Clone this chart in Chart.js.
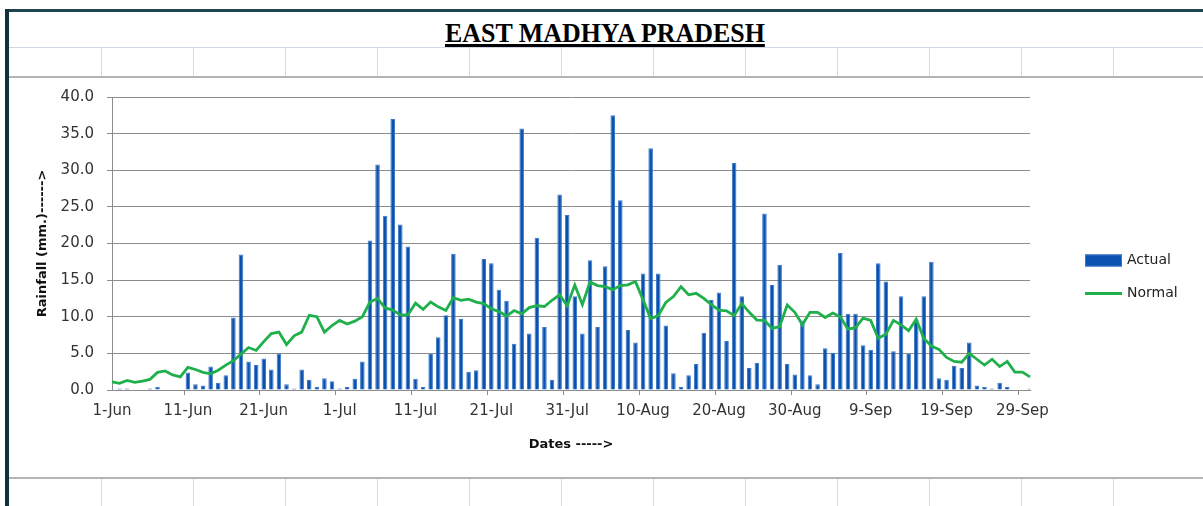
<!DOCTYPE html>
<html>
<head>
<meta charset="utf-8">
<title>East Madhya Pradesh rainfall</title>
<script src="https://cdn.jsdelivr.net/npm/chart.js@4.4.0/dist/chart.umd.min.js"></script>
<style>
    html, body { margin: 0; padding: 0; background: #fff; }
    body { width: 1203px; height: 506px; position: relative; overflow: hidden; }
    .sheet-top { position: absolute; left: 5px; top: 9px; width: 1198px; height: 3px; background: #1e4450; }
    .sheet-left { position: absolute; left: 5px; top: 9px; width: 4px; height: 497px; background: #12303a; }
    .row-line { position: absolute; left: 9px; right: 0; height: 1px; background: #cfd7e6; }
    .chart-edge { position: absolute; left: 9px; right: 0; height: 2px; background: #b4b4b4; }
    .col-line { position: absolute; width: 1px; background: #d4dbe8; }
    #title {
        position: absolute; left: 445px; top: 19px; height: 28px; line-height: 28px;
        font-family: "Liberation Serif", serif; font-weight: bold; font-size: 28px;
        color: #000; white-space: nowrap;
        text-decoration: underline; text-decoration-thickness: 3px; text-underline-offset: 2px;
        transform: scaleX(0.926); transform-origin: left center;
    }
    #rain { position: absolute; left: 0; top: 0; }
</style>
</head>
<body>
<div class="sheet-top"></div>
<div class="sheet-left"></div>
<div class="row-line" style="top:47px"></div>
<div class="chart-edge" style="top:76px"></div>
<div class="chart-edge" style="top:477px"></div>
<div id="title">EAST MADHYA PRADESH</div>
<canvas id="rain" width="1203" height="506"></canvas>

<script>
// Daily rainfall (mm), 1 Jun - 30 Sep
var months = ['Jun', 'Jul', 'Aug', 'Sep'];
var monthDays = [30, 31, 31, 30];
var tickLabels = ['1-Jun', '11-Jun', '21-Jun', '1-Jul', '11-Jul', '21-Jul', '31-Jul',
    '10-Aug', '20-Aug', '30-Aug', '9-Sep', '19-Sep', '29-Sep'];

var actual = [
    0, 0.2, 0.2, 0, 0, 0.2, 0.45, 0, 0, 0,
    2.4, 0.8, 0.6, 3.2, 1.0, 2.0, 9.9, 18.5, 3.9, 3.4,
    4.3, 2.8, 5.0, 0.8, 0.2, 2.8, 1.4, 0.45, 1.6, 1.2,
    0.2, 0.4, 1.55, 3.9, 20.4, 30.8, 23.8, 37.0, 22.6, 19.6,
    1.55, 0.4, 4.9, 7.2, 10.2, 18.6, 9.7, 2.5, 2.7, 17.9,
    17.3, 13.7, 12.2, 6.3, 35.7, 7.7, 20.8, 8.6, 1.4, 26.7,
    23.9, 12.8, 7.7, 17.7, 8.6, 16.9, 37.5, 25.9, 8.2, 6.5,
    15.9, 33.0, 15.9, 8.8, 2.3, 0.4, 2.0, 3.55, 7.8, 12.3,
    13.3, 6.7, 31.0, 12.8, 3.0, 3.7, 24.1, 14.35, 17.1, 3.55,
    2.1, 9.5, 2.0, 0.8, 5.7, 5.1, 18.7, 10.4, 10.4, 6.1,
    5.5, 17.3, 14.8, 5.3, 12.8, 4.9, 9.6, 12.8, 17.5, 1.6,
    1.4, 3.3, 3.0, 6.5, 0.6, 0.4, 0.2, 1.0, 0.4, 0,
    0, 0.2
];

var normal = [
    1.1, 0.9, 1.3, 1.05, 1.2, 1.45, 2.4, 2.6, 2.05, 1.8,
    3.1, 2.8, 2.4, 2.2, 2.7, 3.4, 4.0, 4.9, 5.8, 5.4,
    6.6, 7.7, 7.9, 6.2, 7.4, 7.9, 10.2, 10.0, 7.9, 8.8,
    9.5, 9.0, 9.4, 10.0, 12.0, 12.5, 11.2, 10.9, 10.25, 10.25,
    11.85, 11.0, 12.0, 11.35, 10.85, 12.6, 12.25, 12.4, 12.0, 11.8,
    11.1, 10.7, 10.1, 10.85, 10.4, 11.25, 11.5, 11.4, 12.25, 13.0,
    11.5, 14.35, 11.65, 14.75, 14.25, 14.1, 13.7, 14.25, 14.35, 14.8,
    12.3, 9.75, 10.15, 11.95, 12.75, 14.1, 13.0, 13.2, 12.5, 11.65,
    10.9, 10.8, 10.15, 11.8, 10.6, 9.55, 9.5, 8.4, 8.65, 11.6,
    10.6, 8.9, 10.6, 10.6, 9.9, 10.5, 10.0, 8.3, 8.5, 9.8,
    9.5, 7.05, 7.6, 9.5, 8.9, 8.1, 9.65, 7.05, 6.0, 5.55,
    4.45, 3.9, 3.8, 5.0, 4.2, 3.4, 4.2, 3.2, 3.9, 2.45,
    2.45, 1.8
];

var dates = [];
for (var m = 0; m < months.length; m++) {
    for (var d = 1; d <= monthDays[m]; d++) {
        dates.push(d + '-' + months[m]);
    }
}

// spreadsheet cell borders above and below the chart
var colX = [101, 193, 285, 377, 469, 561, 653, 745, 837, 929, 1021, 1113];
colX.forEach(function (x) {
    [[48, 28], [479, 27]].forEach(function (band) {
        var el = document.createElement('div');
        el.className = 'col-line';
        el.style.left = x + 'px';
        el.style.top = band[0] + 'px';
        el.style.height = band[1] + 'px';
        document.body.appendChild(el);
    });
});

Chart.defaults.font.family = '"DejaVu Sans", sans-serif';
Chart.defaults.color = '#333';

var axisGrey = '#8c8c8c';

// legend on the right: box for bars, short line for the normal curve
var sideLegend = {
    id: 'sideLegend',
    afterDraw: function (chart) {
        var ctx = chart.ctx;
        var area = chart.chartArea;
        var x = area.right + 55;
        var bars = chart.data.datasets[1];
        var line = chart.data.datasets[0];
        var rowA = area.top + 163.5;
        var rowN = area.top + 196.5;

        ctx.save();
        ctx.fillStyle = bars.backgroundColor;
        ctx.fillRect(x, rowA - 6, 37, 12);
        ctx.strokeStyle = bars.borderColor;
        ctx.lineWidth = 1;
        ctx.strokeRect(x + 0.5, rowA - 5.5, 36, 11);

        ctx.strokeStyle = line.borderColor;
        ctx.lineWidth = line.borderWidth;
        ctx.beginPath();
        ctx.moveTo(x, rowN);
        ctx.lineTo(x + 37, rowN);
        ctx.stroke();

        ctx.fillStyle = '#222';
        ctx.font = '14px "DejaVu Sans", sans-serif';
        ctx.textBaseline = 'middle';
        ctx.fillText(bars.label, x + 42, rowA);
        ctx.fillText(line.label, x + 42, rowN);
        ctx.restore();
    }
};

var rainChart = new Chart(document.getElementById('rain'), {
    type: 'bar',
    data: {
        labels: dates,
        datasets: [
            {
                type: 'line',
                label: 'Normal',
                data: normal,
                borderColor: '#1fb04c',
                borderWidth: 2.8,
                pointRadius: 0,
                tension: 0,
                order: 0
            },
            {
                type: 'bar',
                label: 'Actual',
                data: actual,
                backgroundColor: '#0a52b0',
                borderColor: '#3d78c8',
                borderWidth: 1,
                barPercentage: 0.6,
                categoryPercentage: 1,
                order: 1
            }
        ]
    },
    options: {
        responsive: false,
        animation: false,
        layout: {
            padding: { left: 28, top: 97, right: 173, bottom: 46 }
        },
        plugins: {
            legend: { display: false },
            tooltip: { enabled: false }
        },
        scales: {
            x: {
                offset: false,
                grid: {
                    drawOnChartArea: false,
                    tickLength: 5,
                    color: function (c) {
                        return c.index % 10 === 0 ? axisGrey : 'rgba(0,0,0,0)';
                    }
                },
                border: { color: axisGrey },
                ticks: {
                    autoSkip: false,
                    maxRotation: 0,
                    padding: 7,
                    font: { size: 15 },
                    callback: function (value, index) {
                        return tickLabels.indexOf(dates[index]) >= 0 ? dates[index] : '';
                    }
                },
                title: {
                    display: true,
                    text: 'Dates ----->',
                    color: '#111',
                    font: { size: 13, weight: 'bold' },
                    padding: { top: 0, bottom: 8 }
                },
                afterFit: function (scale) {
                    scale.height = 70;
                }
            },
            y: {
                min: 0,
                max: 40,
                grid: { color: axisGrey, tickLength: 5 },
                border: { color: axisGrey },
                ticks: {
                    stepSize: 5,
                    padding: 13,
                    font: { size: 15 },
                    callback: function (value) {
                        return value.toFixed(1);
                    }
                },
                title: {
                    display: true,
                    text: 'Rainfall (mm.)------>',
                    color: '#111',
                    font: { size: 13, weight: 'bold' },
                    padding: { top: 7, bottom: 0 }
                },
                afterFit: function (scale) {
                    scale.width = 84;
                }
            }
        }
    },
    plugins: [sideLegend]
});
</script>
</body>
</html>
